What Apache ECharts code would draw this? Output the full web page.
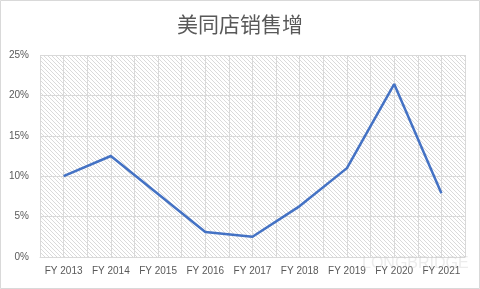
<!DOCTYPE html>
<html>
<head>
<meta charset="utf-8">
<script src="https://cdn.jsdelivr.net/npm/echarts@6/dist/echarts.min.js"></script>
<style>
html,body{margin:0;padding:0;background:#fff;}
#c{width:480px;height:289px;}
</style>
</head>
<body>
<div id="c"></div>
<script>
const categories = ['FY 2013','FY 2014','FY 2015','FY 2016','FY 2017','FY 2018','FY 2019','FY 2020','FY 2021'];
const salesGrowth = [10.0, 12.5, 7.8, 3.1, 2.5, 6.3, 11.0, 21.4, 7.9];
const yTicks = [0, 5, 10, 15, 20, 25];

const pc = document.createElement('canvas');
pc.width = 4; pc.height = 4;
const pctx = pc.getContext('2d');
pctx.strokeStyle = '#dadada';
pctx.lineWidth = 1;
pctx.beginPath();
pctx.moveTo(-1,-1); pctx.lineTo(5,5);
pctx.moveTo(3,-1); pctx.lineTo(5,1);
pctx.moveTo(-1,3); pctx.lineTo(1,5);
pctx.stroke();

const chart = echarts.init(document.getElementById('c'), null, {renderer:'canvas'});
const font = '"Liberation Sans","Noto Sans CJK SC",sans-serif';
chart.setOption({
  animation:false,
  backgroundColor:'#fff',
  title:{
    text:'美同店销售增',
    left:'center', top:9,
    textStyle:{fontFamily:'"Noto Sans CJK SC",sans-serif',fontSize:21,fontWeight:'normal',color:'#595959'}
  },
  grid:{left:40,right:15,top:55,bottom:32,show:true,borderWidth:0,
        backgroundColor:{image:pc,repeat:'repeat'}},
  xAxis:[{
    type:'category', data:categories, boundaryGap:true,
    axisLine:{show:true,lineStyle:{color:'#d9d9d9'}},
    axisTick:{show:false},
    splitLine:{show:false},
    axisLabel:{color:'#595959',fontSize:10,fontFamily:font,margin:9,interval:0}
  },{
    type:'value', min:0, max:18, interval:1, show:true, position:'bottom',
    axisLine:{show:false}, axisTick:{show:false}, axisLabel:{show:false},
    splitLine:{show:true,lineStyle:{color:'#d9d9d9',width:1}}
  }],
  yAxis:{
    type:'value', min:yTicks[0], max:yTicks[yTicks.length-1], interval:5,
    axisLine:{show:false}, axisTick:{show:false},
    axisLabel:{color:'#595959',fontSize:10,fontFamily:font,margin:11,formatter:'{value}%'},
    splitLine:{show:true,lineStyle:{color:'#d9d9d9',width:1}}
  },
  graphic:[
    {type:'rect',shape:{x:0.5,y:0.5,width:479,height:288},style:{fill:'none',stroke:'#d9d9d9',lineWidth:1},z:100},
    {type:'text',left:362,top:256,style:{text:'LONGBRIDGE',fill:'rgba(200,200,200,0.35)',font:'16px "Liberation Sans",sans-serif'},z:50}
  ],
  series:[{
    type:'line', data:salesGrowth, xAxisIndex:0,
    symbol:'none', lineStyle:{color:'#4472C4',width:2.5}, itemStyle:{color:'#4472C4'}
  }]
});
</script>
</body>
</html>
